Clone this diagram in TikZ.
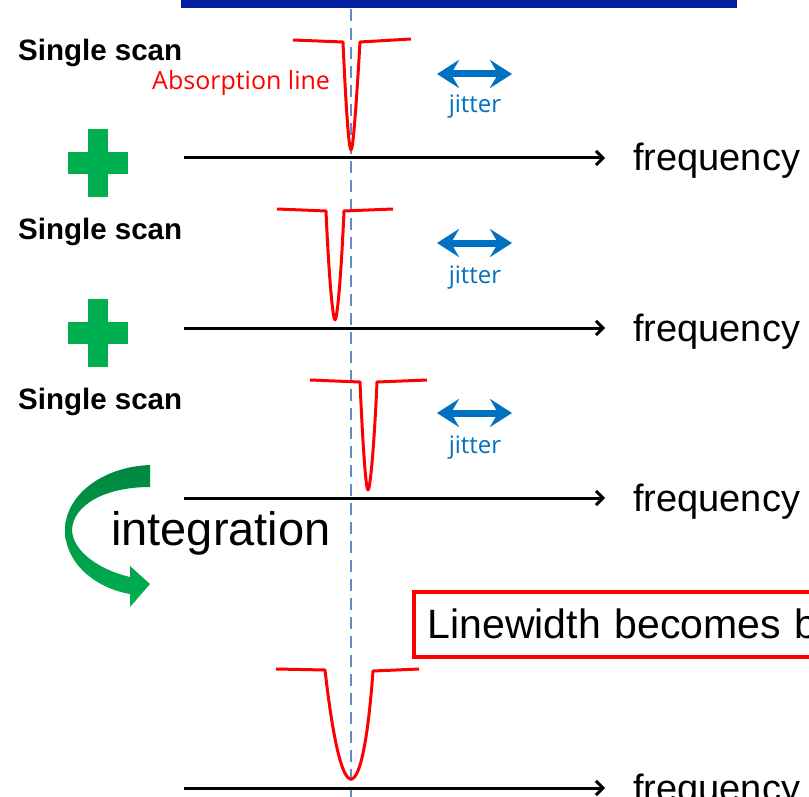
\documentclass[tikz,border=0pt]{standalone}
\usepackage{fontspec}
\setmainfont{Liberation Sans}
\newfontfamily\labelfont{Open Sans}
\usepackage{tikz}
\usetikzlibrary{arrows.meta}
\definecolor{barblue}{RGB}{0,32,160}
\definecolor{dashblue}{RGB}{100,140,195}
\definecolor{jitblue}{RGB}{0,112,192}
\definecolor{plusgreen}{RGB}{0,176,80}
\definecolor{darkgreen}{RGB}{0,135,65}

\begin{document}
\begin{tikzpicture}[x=1pt,y=-1pt,
    scan/.style={font={\fontsize{29.5}{31}\selectfont\bfseries}, anchor=base west, inner sep=0pt},
    freq/.style={font={\fontsize{38}{40}\selectfont}, anchor=base west, inner sep=0pt},
    jit/.style={font={\labelfont\fontsize{24}{26}\selectfont}, text=jitblue, anchor=base, inner sep=0pt},
    dip/.style={red, line width=3pt, line join=round},
    axis/.style={line width=3pt, -{Straight Barb[length=7pt,width=14pt]}},
    jitter/.style={jitblue, line width=7pt,
        {Stealth[length=22pt,width=28pt,inset=8pt]}-{Stealth[length=22pt,width=28pt,inset=8pt]}},
    plus/.style={fill=plusgreen},
    centreline/.style={dashblue, line width=2pt, dash pattern=on 12pt off 7pt},
    ]
        \useasboundingbox (0,0) rectangle (809,797);
        \clip (0,0) rectangle (809,797);
        % Title bar
        \fill[barblue] (181,0) rectangle (737,8);
        % Centre of the line
        \draw[centreline] (351,9) -- (351,797);
        % First scan
        \node[scan] (scan1) at (18,61) {Single scan};
        \node[font={\labelfont\fontsize{25}{27}\selectfont}, text=red, anchor=base west, inner sep=0pt] (absorb) at (152,90) {Absorption line};
        \draw[dip] (293,40) -- (343,42) .. controls (346,110) and (349,150) .. (351,150) .. controls (353,150) and (356,110) .. (360,42) -- (411,39);
        \draw[jitter] (437,74) -- (512,74);
        \node[jit] (jit1) at (475,113) {jitter};
        \draw[axis] (184,158) -- (605,158);
        \node[freq] (freq1) at (633,171) {frequency};
        \fill[plus] (68,152) rectangle (128,174);
        \fill[plus] (88,129) rectangle (108,197);
        % Second scan
        \node[scan] (scan2) at (18,240) {Single scan};
        \draw[dip] (277,209) -- (326,211) .. controls (329,280) and (333,320) .. (335,320) .. controls (337,320) and (341,280) .. (344,211) -- (393,209);
        \draw[jitter] (437,243) -- (512,243);
        \node[jit] (jit2) at (475,283) {jitter};
        \draw[axis] (184,328) -- (605,328);
        \node[freq] (freq2) at (633,341) {frequency};
        \fill[plus] (68,322) rectangle (128,344);
        \fill[plus] (88,299) rectangle (108,367);
        % Third scan
        \node[scan] (scan3) at (18,409) {Single scan};
        \draw[dip] (310,380) -- (360,382) .. controls (363,450) and (366,490) .. (368,490) .. controls (370,490) and (374,450) .. (377,382) -- (427,380);
        \draw[jitter] (437,413) -- (512,413);
        \node[jit] (jit3) at (475,453) {jitter};
        \draw[axis] (184,498) -- (605,498);
        \node[freq] (freq3) at (633,511) {frequency};
        % Integration arrow
        \shade[top color=darkgreen, bottom color=plusgreen]
            (150,465) .. controls (100,467) and (65,497) .. (65,530)
            .. controls (65,563) and (95,588) .. (130,594) -- (130,607) -- (150,584) -- (130,566) -- (130,577)
            .. controls (100,570) and (73,552) .. (72,530)
            .. controls (73,505) and (105,487) .. (150,487) -- cycle;
        \node[font={\fontsize{47}{50}\selectfont}, anchor=base west, inner sep=0pt] (integ) at (111,545) {integration};
        % Result
        \node[draw=red, line width=3.5pt, anchor=north west, inner xsep=14pt, inner ysep=0pt,
            minimum height=65pt, text width=420pt, align=left, font={\fontsize{41}{44}\selectfont}] (result) at (412,590) {Linewidth becomes b};
        \draw[dip] (276,669) -- (325,670) .. controls (333,740) and (342,779) .. (351,779) .. controls (360,779) and (368,740) .. (373,671) -- (419,669);
        \draw[axis] (184,788) -- (605,788);
        \node[freq] (freq4) at (633,801) {frequency};
\end{tikzpicture}
\end{document}
